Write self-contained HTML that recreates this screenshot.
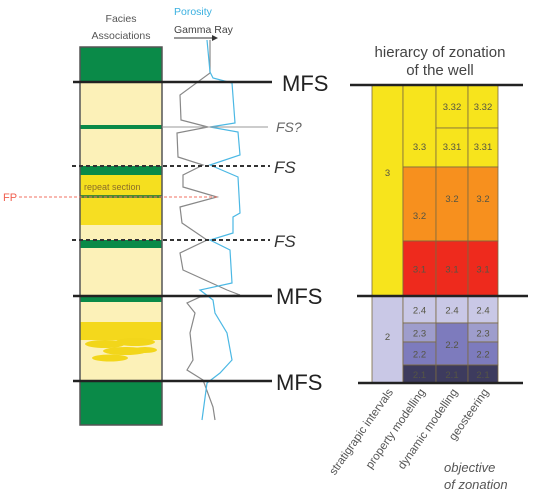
<!DOCTYPE html>
<html><head><meta charset="utf-8"><style>
body{margin:0;background:#fff}
svg{display:block;font-family:"Liberation Sans",sans-serif}
</style></head><body>
<svg id="chart" width="552" height="500" viewBox="0 0 552 500">
<g id="facies"></g>
<g id="logs"></g>
<g id="zones"></g>
<g id="lines"></g>
<text x="121" y="22" font-size="10.5" fill="#555" text-anchor="middle">Facies</text>
<text x="121" y="39" font-size="10.5" fill="#555" text-anchor="middle">Associations</text>
<text x="174" y="15" font-size="10.5" fill="#3ab0e0">Porosity</text>
<text x="174" y="33" font-size="10.5" fill="#444">Gamma Ray</text>
<line x1="174" y1="38" x2="212" y2="38" stroke="#333" stroke-width="1"/>
<polygon points="212,35 218,38 212,41" fill="#333"/>
<text x="440" y="57" font-size="15" fill="#444" text-anchor="middle">hierarcy of zonation</text>
<text x="440" y="75" font-size="15" fill="#444" text-anchor="middle">of the well</text>
<text x="3" y="201" font-size="11" fill="#f06050">FP</text>
<line x1="19" y1="197" x2="218" y2="197" stroke="#f07060" stroke-width="1" stroke-dasharray="3,2"/>
<text x="444" y="472" font-size="13" font-style="italic" fill="#555">objective</text>
<text x="444" y="489" font-size="13" font-style="italic" fill="#555">of zonation</text>
</svg>
<script>
const NS="http://www.w3.org/2000/svg";
function mk(p,t,a){const e=document.createElementNS(NS,t);for(const k in a)e.setAttribute(k,a[k]);p.appendChild(e);return e;}
const faciesTop=[47,82,125,129,166,175,195,198,225,240,248,295,302,322,340,381];
const faciesBot=[82,125,129,166,175,195,198,225,240,248,295,302,322,340,381,425];
const faciesCol=["#0a8a48","#fcf1b8","#0a8a48","#fcf1b8","#0a8a48","#f5df1f","#4a8a30","#f6de22","#fcf1b8","#0a8a48","#fcf1b8","#0a8a48","#fcf1b8","#f4d81c","#fcf1b8","#0a8a48"];
const fg=document.getElementById('facies');
faciesTop.forEach((t,i)=>{const r=mk(fg,'rect',{x:80,y:t,width:82,height:faciesBot[i]-t,fill:faciesCol[i]});

});
[[105,344,20,4],[135,342,20,4],[125,351,22,4],[110,358,18,3.5],[145,350,12,3]].forEach(l=>{const e=mk(fg,'ellipse',{cx:l[0],cy:l[1],rx:l[2],ry:l[3],fill:"#f2d61a"});

});
const rs=mk(fg,'text',{x:84,y:190,'font-size':9,fill:"#8a6d2a"});rs.textContent="repeat section";


const fb=mk(fg,'rect',{x:80,y:47,width:82,height:378,fill:"none",stroke:"#555","stroke-width":1.5});


const gammaX=[210,210,180,181,208,177,178,203,183,183,217,180,182,207,180,183,227,240,200,187,195,190,193,187,203,213,215];
const gammaY=[40,73,95,120,127,133,157,165,175,187,197,207,223,240,253,270,290,295,297,303,313,333,360,370,380,407,420];
const poroX=[207,210,213,232,235,210,238,240,210,238,240,233,233,210,230,232,200,213,215,227,232,220,207,202];
const poroY=[40,72,78,83,123,127,132,155,165,177,213,217,233,240,250,283,290,300,313,333,360,373,383,420];
const lg=document.getElementById('logs');
const gp=mk(lg,'polyline',{points:gammaX.map((x,i)=>x+","+gammaY[i]).join(" "),fill:"none",stroke:"#888","stroke-width":1.2});


const pp=mk(lg,'polyline',{points:poroX.map((x,i)=>x+","+poroY[i]).join(" "),fill:"none",stroke:"#4bb8e4","stroke-width":1.2});


const colX=[372,403,436,468,498];
const colNames=["stratigrapic intervals","property modelling","dynamic modelling","geosteering"];
const zoneTop=[85,296,85,167,241,296,323,342,365,85,128,167,241,296,323,365,85,128,167,241,296,323,342,365];
const zoneBot=[296,383,167,241,296,323,342,365,383,128,167,241,296,323,365,383,128,167,241,296,323,342,365,383];
const zoneLabel=["3","2","3.3","3.2","3.1","2.4","2.3","2.2","2.1","3.32","3.31","3.2","3.1","2.4","2.2","2.1","3.32","3.31","3.2","3.1","2.4","2.3","2.2","2.1"];
const zoneColI=[0,0,1,1,1,1,1,1,1,2,2,2,2,2,2,2,3,3,3,3,3,3,3,3];
const zoneFill={"3":"#f7e41c","2":"#c9c8e6","3.3":"#f7e41c","3.32":"#f7e41c","3.31":"#f7e41c","3.2":"#f7901e","3.1":"#ee2a1d","2.4":"#c9c8e6","2.3":"#9e9dcc","2.2":"#7d7bbd","2.1":"#3d3b5e"};
const zg=document.getElementById('zones');
zoneTop.forEach((t,i)=>{const c=zoneColI[i];const lab=zoneLabel[i];
const r=mk(zg,'rect',{x:colX[c],y:t,width:colX[c+1]-colX[c],height:zoneBot[i]-t,fill:zoneFill[lab],stroke:"#7a6a40","stroke-width":0.8});


let ty=(t+zoneBot[i])/2+4;
if(lab==="3.3")ty=150;if(c===1&&lab==="3.2")ty=219;if(c>1&&lab==="3.2")ty=202;if(lab==="3.32")ty=110;if(lab==="3.31")ty=150;
if(c===0&&lab==="3")ty=176;if(c===0&&lab==="2")ty=340;
const tx=mk(zg,'text',{x:(colX[c]+colX[c+1])/2,y:ty,'font-size':9.5,fill:"#554",'text-anchor':'middle'});tx.textContent=lab;

});
colNames.forEach((n,i)=>{const cx=(colX[i]+colX[i+1])/2+6;
const t=mk(zg,'text',{x:cx,y:392,'font-size':11.5,fill:"#555",'text-anchor':'end',transform:`rotate(-55 ${cx} 392)`});t.textContent=n;

});
const lnY=[85,296,383,82,296,381];
const lnX1=[350,357,358,73,73,73];
const lnX2=[523,528,523,272,272,272];
const ln=document.getElementById('lines');
lnY.forEach((y,i)=>{const l=mk(ln,'line',{x1:lnX1[i],y1:y,x2:lnX2[i],y2:y,stroke:"#222","stroke-width":2.5});

});
[166,240].forEach(y=>{const l=mk(ln,'line',{x1:72,y1:y,x2:270,y2:y,stroke:"#333","stroke-width":2,'stroke-dasharray':"4,3"});

});
const fsq=mk(ln,'line',{x1:162,y1:127,x2:268,y2:127,stroke:"#999","stroke-width":1});


const labs=[["MFS",282,91,22,"normal","#222"],["FS?",276,132,14,"italic","#666"],["FS",274,173,17,"italic","#333"],["FS",274,247,17,"italic","#333"],["MFS",276,304,22,"normal","#222"],["MFS",276,390,22,"normal","#222"]];
labs.forEach(a=>{const t=mk(ln,'text',{x:a[1],y:a[2],'font-size':a[3],'font-style':a[4],fill:a[5]});t.textContent=a[0];

});
</script>
</body></html>
